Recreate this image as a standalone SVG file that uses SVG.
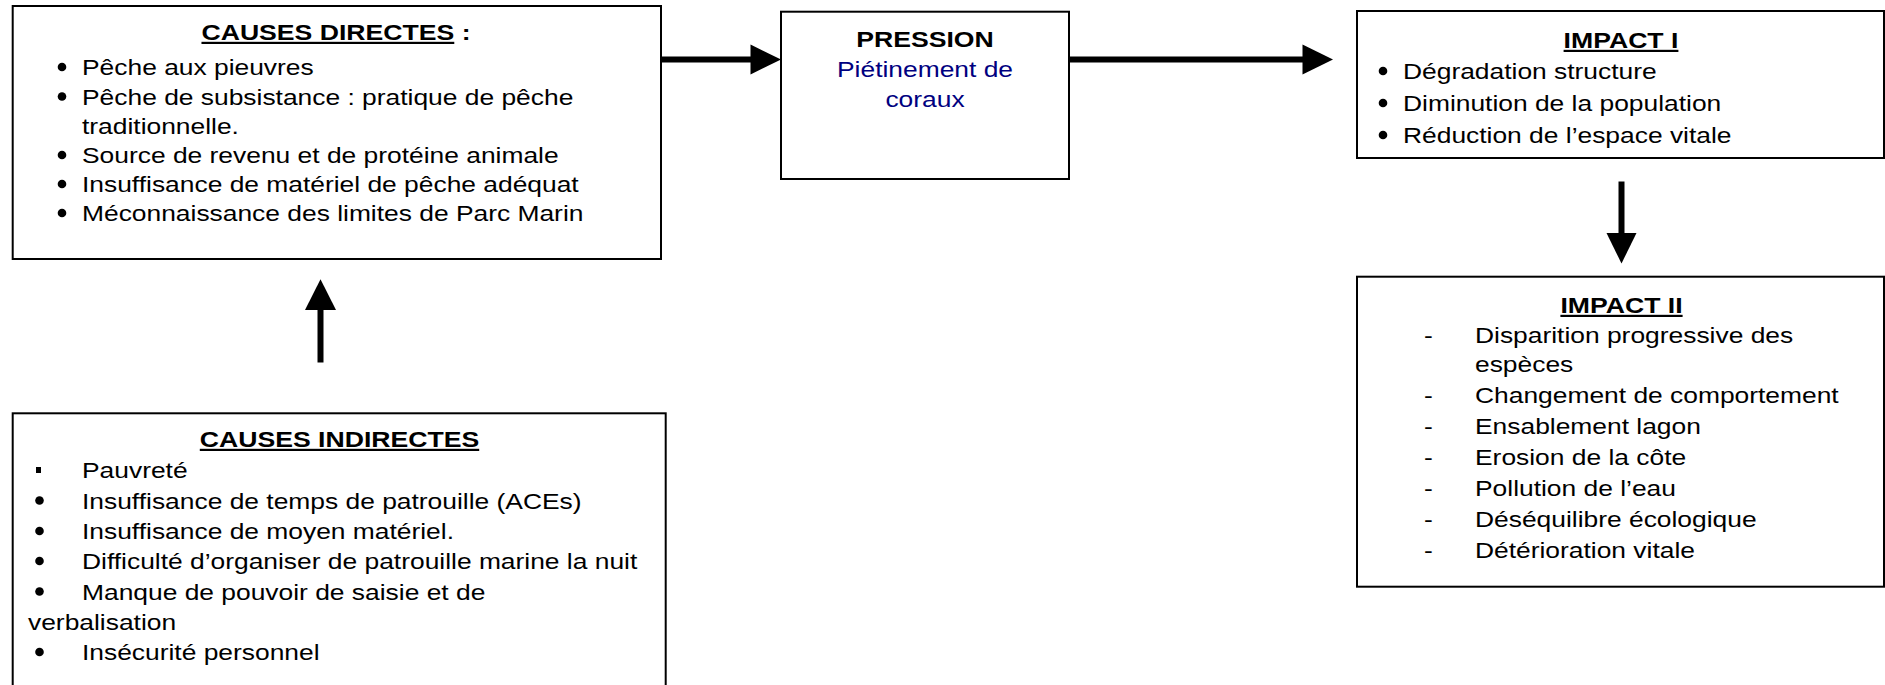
<svg xmlns="http://www.w3.org/2000/svg" width="1885" height="685" viewBox="0 0 1885 685">
  <style>
    .box{fill:#fff;stroke:#000;stroke-width:2}
    .t{font-family:"Liberation Sans",Arial,sans-serif;font-size:22px;fill:#000}
    .h{font-weight:bold;text-anchor:middle}
    .u{text-decoration:underline}
    .blue{fill:#000080}
    .ln{stroke:#000;stroke-width:6;fill:none}
    .hd{fill:#000}
  </style>
  <defs>
    <circle id="dot" r="4.3" fill="#000"/>
  </defs>

  <rect width="1885" height="685" fill="#fff"/>

  <!-- connectors -->
  <g id="connectors">
    <line class="ln" x1="661" y1="59.5" x2="752" y2="59.5"/>
    <polygon class="hd" points="750.5,44.5 781,59.5 750.5,74.5"/>
    <line class="ln" x1="1069" y1="59.5" x2="1304" y2="59.5"/>
    <polygon class="hd" points="1302.5,44.5 1333,59.5 1302.5,74.5"/>
    <line class="ln" x1="1621.5" y1="181.5" x2="1621.5" y2="235"/>
    <polygon class="hd" points="1606.5,233 1636.5,233 1621.5,263.5"/>
    <line class="ln" x1="320.5" y1="362.5" x2="320.5" y2="308"/>
    <polygon class="hd" points="305,310 336,310 320.5,279.3"/>
  </g>

  <!-- direct causes -->
  <g id="causes-directes">
    <rect class="box" x="12.7" y="6" width="648.3" height="253"/>
    <text class="t h" transform="translate(336 40) scale(1.21 1)"><tspan class="u">CAUSES DIRECTES</tspan> :</text>
    <use href="#dot" x="62" y="67"/>
    <text class="t" transform="translate(82 75) scale(1.2 1)">Pêche aux pieuvres</text>
    <use href="#dot" x="62" y="96.5"/>
    <text class="t" transform="translate(82 104.5) scale(1.2 1)">Pêche de subsistance : pratique de pêche</text>
    <text class="t" transform="translate(82 134) scale(1.2 1)">traditionnelle.</text>
    <use href="#dot" x="62" y="155"/>
    <text class="t" transform="translate(82 163) scale(1.2 1)">Source de revenu et de protéine animale</text>
    <use href="#dot" x="62" y="184"/>
    <text class="t" transform="translate(82 192) scale(1.2 1)">Insuffisance de matériel de pêche adéquat</text>
    <use href="#dot" x="62" y="213"/>
    <text class="t" transform="translate(82 221) scale(1.2 1)">Méconnaissance des limites de Parc Marin</text>
  </g>

  <!-- pressure -->
  <g id="pression">
    <rect class="box" x="781" y="11.7" width="288" height="167.3"/>
    <text class="t h" transform="translate(925 47) scale(1.21 1)">PRESSION</text>
    <text class="t blue" text-anchor="middle" transform="translate(925 77) scale(1.2 1)">Piétinement de</text>
    <text class="t blue" text-anchor="middle" transform="translate(925 107) scale(1.2 1)">coraux</text>
  </g>

  <!-- first impact -->
  <g id="impact-1">
    <rect class="box" x="1357" y="11" width="527" height="147"/>
    <text class="t h" transform="translate(1621 48) scale(1.21 1)"><tspan class="u">IMPACT I</tspan></text>
    <use href="#dot" x="1383" y="71"/>
    <text class="t" transform="translate(1403 79) scale(1.2 1)">Dégradation structure</text>
    <use href="#dot" x="1383" y="103"/>
    <text class="t" transform="translate(1403 111) scale(1.2 1)">Diminution de la population</text>
    <use href="#dot" x="1383" y="135"/>
    <text class="t" transform="translate(1403 143) scale(1.2 1)">Réduction de l’espace vitale</text>
  </g>

  <!-- second impact -->
  <g id="impact-2">
    <rect class="box" x="1357" y="276.7" width="527" height="310"/>
    <text class="t h" transform="translate(1621.5 313) scale(1.21 1)"><tspan class="u">IMPACT II</tspan></text>
    <text class="t" transform="translate(1424 342.7) scale(1.2 1)">-</text>
    <text class="t" transform="translate(1475 342.7) scale(1.2 1)">Disparition progressive des</text>
    <text class="t" transform="translate(1475 372) scale(1.2 1)">espèces</text>
    <text class="t" transform="translate(1424 403) scale(1.2 1)">-</text>
    <text class="t" transform="translate(1475 403) scale(1.2 1)">Changement de comportement</text>
    <text class="t" transform="translate(1424 434) scale(1.2 1)">-</text>
    <text class="t" transform="translate(1475 434) scale(1.2 1)">Ensablement lagon</text>
    <text class="t" transform="translate(1424 465) scale(1.2 1)">-</text>
    <text class="t" transform="translate(1475 465) scale(1.2 1)">Erosion de la côte</text>
    <text class="t" transform="translate(1424 496) scale(1.2 1)">-</text>
    <text class="t" transform="translate(1475 496) scale(1.2 1)">Pollution de l’eau</text>
    <text class="t" transform="translate(1424 527) scale(1.2 1)">-</text>
    <text class="t" transform="translate(1475 527) scale(1.2 1)">Déséquilibre écologique</text>
    <text class="t" transform="translate(1424 557.5) scale(1.2 1)">-</text>
    <text class="t" transform="translate(1475 557.5) scale(1.2 1)">Détérioration vitale</text>
  </g>

  <!-- indirect causes -->
  <g id="causes-indirectes">
    <rect class="box" x="12.7" y="413.3" width="653" height="300"/>
    <text class="t h" transform="translate(339.5 447) scale(1.21 1)"><tspan class="u">CAUSES INDIRECTES</tspan></text>
    <rect x="36" y="467" width="5" height="6" fill="#000"/>
    <text class="t" transform="translate(82 478) scale(1.2 1)">Pauvreté</text>
    <use href="#dot" x="39.5" y="500.5"/>
    <text class="t" transform="translate(82 508.5) scale(1.2 1)">Insuffisance de temps de patrouille (ACEs)</text>
    <use href="#dot" x="39.5" y="531"/>
    <text class="t" transform="translate(82 539) scale(1.2 1)">Insuffisance de moyen matériel.</text>
    <use href="#dot" x="39.5" y="561"/>
    <text class="t" transform="translate(82 569) scale(1.2 1)">Difficulté d’organiser de patrouille marine la nuit</text>
    <use href="#dot" x="39.5" y="591.5"/>
    <text class="t" transform="translate(82 599.5) scale(1.2 1)">Manque de pouvoir de saisie et de</text>
    <text class="t" transform="translate(28 630) scale(1.2 1)">verbalisation</text>
    <use href="#dot" x="39.5" y="652"/>
    <text class="t" transform="translate(82 660) scale(1.2 1)">Insécurité personnel</text>
  </g>
</svg>
